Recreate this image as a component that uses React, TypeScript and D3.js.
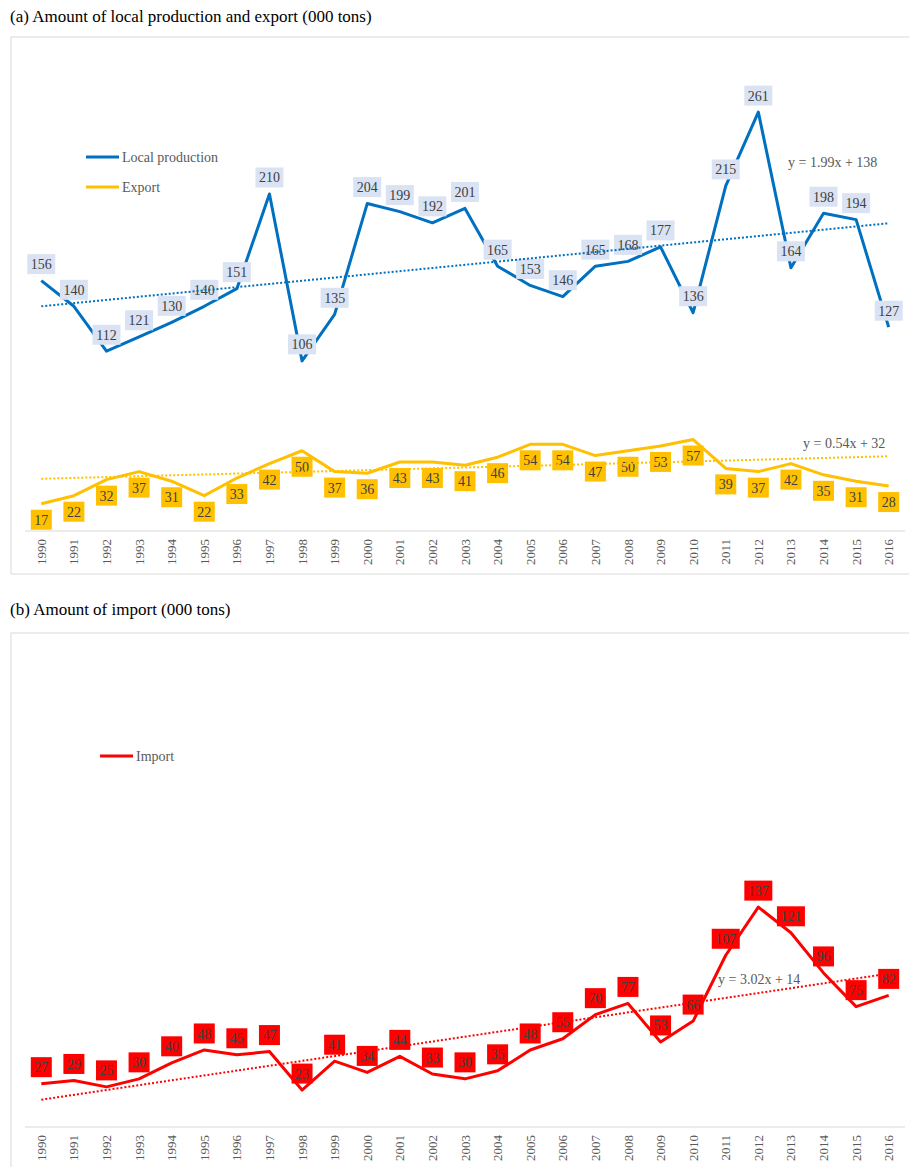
import React from 'react'
import * as d3 from 'd3'

// years on the x axis
const years = d3.range(1990, 2017).map(String)

// panel (a)
const localProduction = [156, 140, 112, 121, 130, 140, 151, 210, 106, 135, 204, 199, 192, 201, 165, 153, 146, 165, 168, 177, 136, 215, 261, 164, 198, 194, 127]
const exportAmount = [17, 22, 32, 37, 31, 22, 33, 42, 50, 37, 36, 43, 43, 41, 46, 54, 54, 47, 50, 53, 57, 39, 37, 42, 35, 31, 28]

// panel (b)
const importAmount = [27, 29, 25, 30, 40, 48, 45, 47, 23, 41, 34, 44, 33, 30, 35, 48, 55, 70, 77, 53, 66, 107, 137, 121, 96, 75, 82]

// linear trendlines as printed on the chart: [slope, intercept]
const localTrend = [1.99, 138]
const exportTrend = [0.54, 32]
const importTrend = [3.02, 14]

const FONT = '"Liberation Serif", "Times New Roman", serif'
const GREY = '#595959'
const LABEL_TEXT = '#404040'

type Series = {
  name: string
  values: number[]
  trend: number[]
  color: string
  boxColor: string
  labelPos: 'above' | 'below'
  eq: { x: number; y: number }
}

function Panel({ title, titleY, frameY, frameH, axisY, series, legend }: {
  title: string
  titleY: number
  frameY: number
  frameH: number
  axisY: number
  series: Series[]
  legend: { x: number; y: number }
}) {
  const x = d3.scaleBand().domain(years).range([25, 905]).padding(0)
  const cx = (i: number) => (x(years[i]) as number) + x.bandwidth() / 2
  const y = d3.scaleLinear().domain([0, 300]).range([axisY, axisY - 300 * 1.605])

  const line = d3.line<number>().x((d, i) => cx(i)).y(d => y(d))

  return (
    <g>
      <text x={10} y={titleY} fontFamily={FONT} fontSize={17} fill="#000">{title}</text>
      <rect x={11} y={frameY} width={902} height={frameH} fill="#fff" stroke="#d9d9d9" strokeWidth={1} />
      <line x1={x.range()[0]} x2={x.range()[1]} y1={axisY} y2={axisY} stroke="#d9d9d9" strokeWidth={1} />
      {years.map((yr, i) => (
        <text key={yr} transform={`translate(${cx(i)},${axisY + 8}) rotate(-90)`} textAnchor="end" dy="0.35em"
          fontFamily={FONT} fontSize={13} fill={GREY}>{yr}</text>
      ))}

      {series.map(s => (
        <path key={s.name} d={line(s.values) || ''} fill="none" stroke={s.color} strokeWidth={3} strokeLinejoin="round" />
      ))}

      {series.map(s => (
        <g key={s.name + '-labels'}>
          {s.values.map((v, i) => {
            const w = String(v).length > 2 ? 28 : 21
            const ly = s.labelPos === 'above' ? y(v) - 16.5 : y(v) + 16
            return (
              <g key={i}>
                <rect x={cx(i) - w / 2} y={ly - 10} width={w} height={20} fill={s.boxColor} />
                <text x={cx(i)} y={ly} dy="0.36em" textAnchor="middle" fontFamily={FONT} fontSize={14} fill={LABEL_TEXT}>{v}</text>
              </g>
            )
          })}
        </g>
      ))}

      {series.map(s => {
        const [m, b] = s.trend
        const f = (i: number) => m * (i + 1) + b
        const n = s.values.length - 1
        return (
          <g key={s.name + '-trend'}>
            <line x1={cx(0)} x2={cx(n)} y1={y(f(0))} y2={y(f(n))} stroke={s.color} strokeWidth={2} strokeDasharray="2,2" />
            <text x={s.eq.x} y={s.eq.y} dy="0.35em" fontFamily={FONT} fontSize={14} fill={GREY}>
              {`y = ${m.toFixed(2)}x + ${b}`}
            </text>
          </g>
        )
      })}

      {series.map((s, k) => (
        <g key={s.name + '-legend'} transform={`translate(${legend.x},${legend.y + k * 30})`}>
          <line x1={0} x2={33} y1={0} y2={0} stroke={s.color} strokeWidth={3} />
          <text x={36} y={0} dy="0.35em" fontFamily={FONT} fontSize={14} fill={GREY}>{s.name}</text>
        </g>
      ))}
    </g>
  )
}

export default function App() {
  const seriesA: Series[] = [
    { name: 'Local production', values: localProduction, trend: localTrend, color: '#0070c0', boxColor: '#dae3f3', labelPos: 'above', eq: { x: 788, y: 162 } },
    { name: 'Export', values: exportAmount, trend: exportTrend, color: '#ffc000', boxColor: '#ffc000', labelPos: 'below', eq: { x: 803, y: 443 } },
  ]
  const seriesB: Series[] = [
    { name: 'Import', values: importAmount, trend: importTrend, color: '#ff0000', boxColor: '#ff0000', labelPos: 'above', eq: { x: 718, y: 979 } },
  ]
  return (
    <svg width={909} height={1167} style={{ position: 'absolute', left: 0, top: 0, background: '#fff' }}>
      <Panel title="(a) Amount of local production and export (000 tons)" titleY={22} frameY={37} frameH={537}
        axisY={531} series={seriesA} legend={{ x: 86, y: 157 }} />
      <Panel title="(b) Amount of import (000 tons)" titleY={615} frameY={633} frameH={560}
        axisY={1127} series={seriesB} legend={{ x: 100, y: 756 }} />
    </svg>
  )
}
